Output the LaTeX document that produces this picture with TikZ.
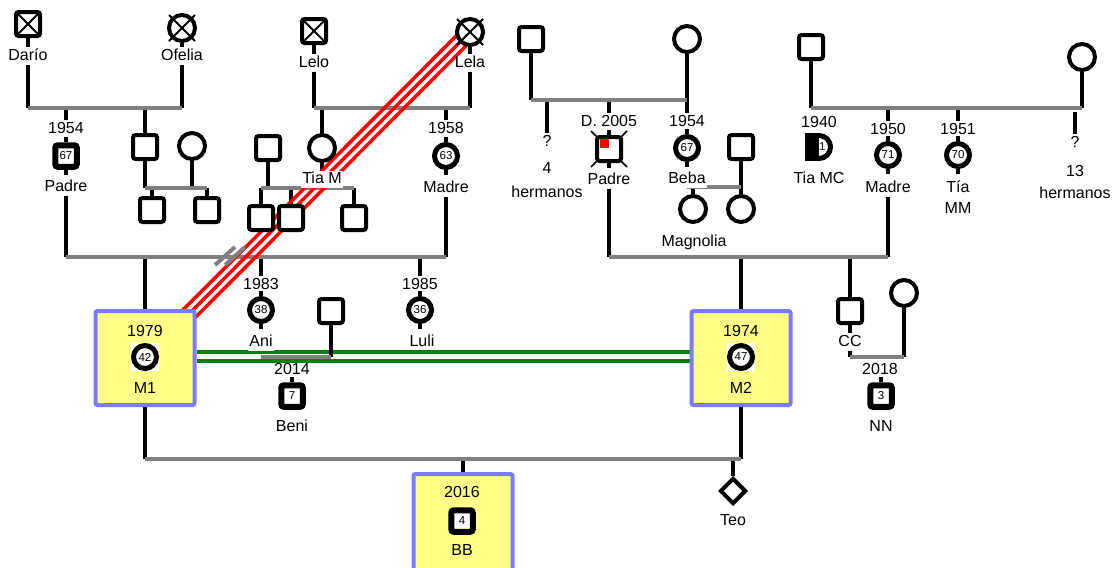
\documentclass[tikz,border=0pt]{standalone}
\usepackage{fontspec}
\setmainfont{Liberation Sans}
\usetikzlibrary{shapes.geometric,calc}
\pgfdeclarelayer{bgwhite}
\pgfdeclarelayer{lines}
\pgfsetlayers{bgwhite,lines,main}
\definecolor{relgray}{RGB}{128,128,128}
\definecolor{boxfill}{RGB}{255,255,136}
\definecolor{boxdraw}{RGB}{123,123,255}
\definecolor{grn}{RGB}{0,128,0}
\begin{document}
\begin{tikzpicture}[x=1pt,y=-1pt,
  lab/.style={font=\fontsize{16}{18}\selectfont, inner sep=1pt, text height=11.5pt, text depth=3.5pt},
  wlab/.style={lab, fill=white},
  msq/.style={draw, line width=4pt, rounded corners=2.5pt, minimum size=24pt, inner sep=0pt, fill=white},
  fci/.style={draw, circle, line width=4pt, minimum size=26pt, inner sep=0pt, fill=white},
  nsq/.style={draw, line width=6pt, rounded corners=2.5pt, minimum size=21.5pt, inner sep=0pt, fill=white, font=\fontsize{11.5}{11.5}\selectfont},
  nci/.style={draw, circle, line width=5pt, minimum size=23pt, inner sep=0pt, fill=white, font=\fontsize{11.5}{11.5}\selectfont},
  wbg/.style={fill=white, minimum size=28pt, inner sep=0pt},
  kin/.style={line width=3.7pt, black},
  rel/.style={line width=4pt, relgray},
  xl/.style={line width=1.8pt, black},
  tick/.style={line width=1.5pt, black},
  redl/.style={line width=3.5pt, red},
  grl/.style={line width=3.5pt, grn},
  pbox/.style={draw=boxdraw, fill=boxfill, line width=4pt, rounded corners=2pt, minimum width=99pt, minimum height=94pt, inner sep=0pt},
  teobox/.style={diamond, draw, line width=4pt, minimum size=26pt, inner sep=0pt, fill=white},
]
\useasboundingbox (0,0) rectangle (1120,568);

% ---------- top left family ----------
\node[msq] (dario) at (28,24) {};
\node[lab] (dariol) at (28,56) {Darío};
\node[fci] (ofelia) at (182,28) {};
\node[lab] (ofelial) at (182,56) {Ofelia};
\node[lab] (p1y) at (66,129) {1954};
\node[nsq] (p1) at (66,156) {67};
\node[lab] (p1l) at (66,187) {Padre};
\node[msq] (u1) at (145,147) {};
\node[fci] (a1) at (192,146) {};
\node[msq] (c1) at (152,210) {};
\node[msq] (c2) at (207,210) {};

% ---------- Lelo / Lela ----------
\node[msq] (lelo) at (314,31) {};
\node[lab] (lelol) at (314,63) {Lelo};
\node[fci] (lela) at (470,32) {};
\node[lab] (lelal) at (470,63) {Lela};
\node[fci] (tiam) at (322,148) {};
\node[wlab] (tiaml) at (322,179) {Tia M};
\node[lab] (mo1y) at (446,129) {1958};
\node[nci] (mo1) at (446,156) {63};
\node[lab] (mo1l) at (446,188) {Madre};
\node[msq] (tmh) at (268,148) {};
\node[msq] (tc1) at (261,218) {};
\node[msq] (tc2) at (291,218) {};
\node[msq] (tc3) at (354,218) {};

% ---------- third generation, left ----------
\node[pbox] (m1) at (145,358) {};
\node[lab] (m1y) at (145,332) {1979};
\node[wbg] (m1bg) at (145,357) {};
\node[nci] (m1c) at (145,357) {42};
\node[lab] (m1l) at (145,389) {M1};
\node[lab] (aniy) at (261,285) {1983};
\node[nci] (ani) at (261,310) {38};
\node[wlab] (anil) at (261,342) {Ani};
\node[lab] (luliy) at (420,285) {1985};
\node[nci] (luli) at (420,310) {36};
\node[lab] (lulil) at (422,342) {Luli};
\node[msq] (anih) at (331,311) {};
\node[lab] (beniy) at (292,370) {2014};
\node[nsq] (beni) at (292,396) {7};
\node[lab] (benil) at (292,427) {Beni};

% ---------- top right, paternal ----------
\node[msq] (pgf) at (531,39) {};
\node[fci] (pgm) at (687,39) {};
\node[lab] (q4) at (547,142) {?};
\node[lab] (n4) at (547,169) {4};
\node[lab] (h4) at (547,193) {hermanos};
\node[lab] (p2y) at (609,122) {D. 2005};
\node[msq] (p2) at (609,149) {};
\node[lab] (p2l) at (609,180) {Padre};
\node[lab] (bebay) at (687,122) {1954};
\node[nci] (beba) at (687,148) {67};
\node[wlab] (bebal) at (687,179) {Beba};
\node[msq] (bebah) at (741,147) {};
\node[fci] (mag1) at (693,209) {};
\node[fci] (mag2) at (741,209) {};
\node[lab] (magl) at (694,242) {Magnolia};

% ---------- top right, maternal ----------
\node[msq] (mgf) at (811,47) {};
\node[fci] (mgm) at (1082,57) {};
\node[lab] (tmcy) at (819,123) {1940};
\node[nci] (tmc) at (819,147) {81};
\fill[black] (805,133) rectangle (819,161);
\node[lab] (tmcl) at (819,179) {Tia MC};
\node[lab] (mo2y) at (888,130) {1950};
\node[nci] (mo2) at (888,155) {71};
\node[lab] (mo2l) at (888,188) {Madre};
\node[lab] (tmmy) at (958,130) {1951};
\node[nci] (tmm) at (958,155) {70};
\node[lab] (tmml) at (958,188) {Tía};
\node[lab] (tmml2) at (958,209) {MM};
\node[lab] (q13) at (1075,143) {?};
\node[lab] (n13) at (1075,172) {13};
\node[lab] (h13) at (1075,194) {hermanos};

% ---------- third generation, right ----------
\node[pbox] (m2) at (741,358) {};
\node[lab] (m2y) at (741,332) {1974};
\node[wbg] (m2bg) at (741,357) {};
\node[nci] (m2c) at (741,357) {47};
\node[lab] (m2l) at (741,389) {M2};
\node[msq] (cc) at (850,311) {};
\node[lab] (ccl) at (850,342) {CC};
\node[fci] (ccw) at (904,293) {};
\node[lab] (nny) at (880,370) {2018};
\node[nsq] (nn) at (881,396) {3};
\node[lab] (nnl) at (881,427) {NN};

% ---------- fourth generation ----------
\node[pbox, minimum height=104pt] (bb) at (463,526) {};
\node[lab] (bby) at (462,493) {2016};
\node[nsq] (bbs) at (462,521) {4};
\node[lab] (bbl) at (462,551) {BB};
\node[teobox] (teo) at (733,491) {};
\node[lab] (teol) at (733,521) {Teo};

% ---------- death marks ----------
\draw[xl] ($(dario.center)+(-10,-10)$) -- ($(dario.center)+(10,10)$);
\draw[xl] ($(dario.center)+(-10,10)$) -- ($(dario.center)+(10,-10)$);
\draw[xl] ($(lelo.center)+(-10,-10)$) -- ($(lelo.center)+(10,10)$);
\draw[xl] ($(lelo.center)+(-10,10)$) -- ($(lelo.center)+(10,-10)$);
\draw[xl] ($(ofelia.center)+(-13,-13)$) -- ($(ofelia.center)+(13,13)$);
\draw[xl] ($(ofelia.center)+(-13,13)$) -- ($(ofelia.center)+(13,-13)$);
\draw[xl] ($(lela.center)+(-13,-13)$) -- ($(lela.center)+(13,13)$);
\draw[xl] ($(lela.center)+(-13,13)$) -- ($(lela.center)+(13,-13)$);
\fill[red] ($(p2.center)+(-9,-10)$) rectangle ($(p2.center)+(0,-1)$);

% ---------- connectors ----------
\begin{pgfonlayer}{bgwhite}
\fill[white] (0,0) rectangle (1120,568);
\end{pgfonlayer}
\begin{pgfonlayer}{lines}
% partnership (green)
\draw[grl] (m1.east |- 0,352) -- (m2.west |- 0,352);
\draw[grl] (m1.east |- 0,361) -- (m2.west |- 0,361);
% death ticks for Padre (D. 2005)
\draw[tick] ($(p2.center)+(-18,-18)$) -- ($(p2.center)+(18,18)$);
\draw[tick] ($(p2.center)+(-18,18)$) -- ($(p2.center)+(18,-18)$);
% black kinship lines
\draw[kin] (dario) -- (dariol);
\draw[kin] (dariol.south) -- (dariol.south |- 0,108);
\draw[kin] (ofelia) -- (ofelial);
\draw[kin] (ofelial.south) -- (ofelial.south |- 0,108);
\draw[kin] (p1y.north |- 0,108) -- (p1y.north);
\draw[kin] (p1.north) -- ++(0,-5);
\draw[kin] (p1.south) -- ++(0,5);
\draw[kin] (p1l.south) -- (p1l.south |- 0,257);
\draw[kin] (u1 |- 0,108) -- (u1.center) -- (u1 |- 0,188);
\draw[kin] (a1) -- (a1 |- 0,188);
\draw[kin] (c1 |- 0,188) -- (c1);
\draw[kin] (c2 |- 0,188) -- (c2);
\draw[kin] (lelo) -- (lelol);
\draw[kin] (lelol.south) -- (lelol.south |- 0,108);
\draw[kin] (lela) -- (lelal);
\draw[kin] (lelal.south) -- (lelal.south |- 0,108);
\draw[kin] (tiam |- 0,108) -- (tiam.center) -- (tiaml);
\draw[kin] (mo1y.north |- 0,108) -- (mo1y.north);
\draw[kin] (mo1.north) -- ++(0,-5);
\draw[kin] (mo1.south) -- ++(0,5);
\draw[kin] (mo1l.south) -- (mo1l.south |- 0,257);
\draw[kin] (tmh) -- (tmh |- 0,188);
\draw[kin] (tc1 |- 0,188) -- (tc1);
\draw[kin] (tc2 |- 0,188) -- (tc2);
\draw[kin] (tc3 |- 0,188) -- (tc3);
\draw[kin] (m1 |- 0,257) -- (m1.center) -- (m1 |- 0,459);
\draw[kin] (aniy.north |- 0,257) -- (aniy.north);
\draw[kin] (ani.north) -- ++(0,-5);
\draw[kin] (ani.south) -- ++(0,5);
\draw[kin] (luliy.north |- 0,257) -- (luliy.north);
\draw[kin] (luli.north) -- ++(0,-5);
\draw[kin] (luli.south) -- ++(0,5);
\draw[kin] (anih) -- (anih |- 0,357);
\draw[kin] (beni.north) -- ++(0,-5);
\draw[kin] (pgf) -- (pgf |- 0,100);
\draw[kin] (pgm) -- (pgm |- 0,100);
\draw[kin] (q4.north |- 0,100) -- (q4.north);
\draw[kin] (p2y.north |- 0,100) -- (p2y.north);
\draw[kin] (p2.north) -- ++(0,-5);
\draw[kin] (p2.south) -- ++(0,5);
\draw[kin] (p2l.south) -- (p2l.south |- 0,257);
\draw[kin] (bebay.north |- 0,100) -- (bebay.north);
\draw[kin] (beba.north) -- ++(0,-5);
\draw[kin] (beba.south) -- ++(0,5);
\draw[kin] (bebah) -- (mag2);
\draw[kin] (mag1 |- 0,187) -- (mag1);
\draw[kin] (mgf) -- (mgf |- 0,108);
\draw[kin] (mgm) -- (mgm |- 0,108);
\draw[kin] (mo2y.north |- 0,108) -- (mo2y.north);
\draw[kin] (mo2.north) -- ++(0,-5);
\draw[kin] (mo2.south) -- ++(0,5);
\draw[kin] (mo2l.south) -- (mo2l.south |- 0,257);
\draw[kin] (tmmy.north |- 0,108) -- (tmmy.north);
\draw[kin] (tmm.north) -- ++(0,-5);
\draw[kin] (tmm.south) -- ++(0,5);
\draw[kin] (q13.north |- 0,112) -- (q13.north);
\draw[kin] (m2 |- 0,257) -- (m2.center) -- (m2 |- 0,459);
\draw[kin] (cc |- 0,257) -- (cc.center) -- (ccl);
\draw[kin] (ccl.south) -- (ccl.south |- 0,357);
\draw[kin] (ccw) -- (ccw |- 0,357);
\draw[kin] (nn.north) -- ++(0,-5);
\draw[kin] (bb |- 0,459) -- (bb.north);
\draw[kin] (teo |- 0,459) -- (teo);
% gray relationship lines
\draw[rel] (dariol |- 0,108) -- (ofelial |- 0,108);
\draw[rel] (u1 |- 0,188) -- (c2 |- 0,188);
\draw[rel] (lelo |- 0,108) -- (lela |- 0,108);
\draw[rel] (tc1 |- 0,188) -- (tc3 |- 0,188);
\draw[rel] (p1l |- 0,257) -- (mo1l |- 0,257);
\draw[rel] (ani |- 0,357) -- (anih |- 0,357);
\draw[rel] (pgf |- 0,100) -- (pgm |- 0,100);
\draw[rel] (beba |- 0,187) -- (bebah |- 0,187);
\draw[rel] (mgf |- 0,108) -- (mgm |- 0,108);
\draw[rel] (p2l |- 0,257) -- (mo2l |- 0,257);
\draw[rel] (cc |- 0,357) -- (ccw |- 0,357);
\draw[rel] (m1 |- 0,459) -- (m2 |- 0,459);
% red (conflict) triple line M1 -- Lela
\foreach \o in {-4.95,0,4.95}
  \draw[redl] ($(m1.center)+(\o,\o)$) -- ($(lela.center)+(\o,\o)$);
% divorce slashes
\draw[rel] (215,265) -- (235,247);
\draw[rel] (225,265) -- (245,247);
\end{pgfonlayer}
\end{tikzpicture}
\end{document}
